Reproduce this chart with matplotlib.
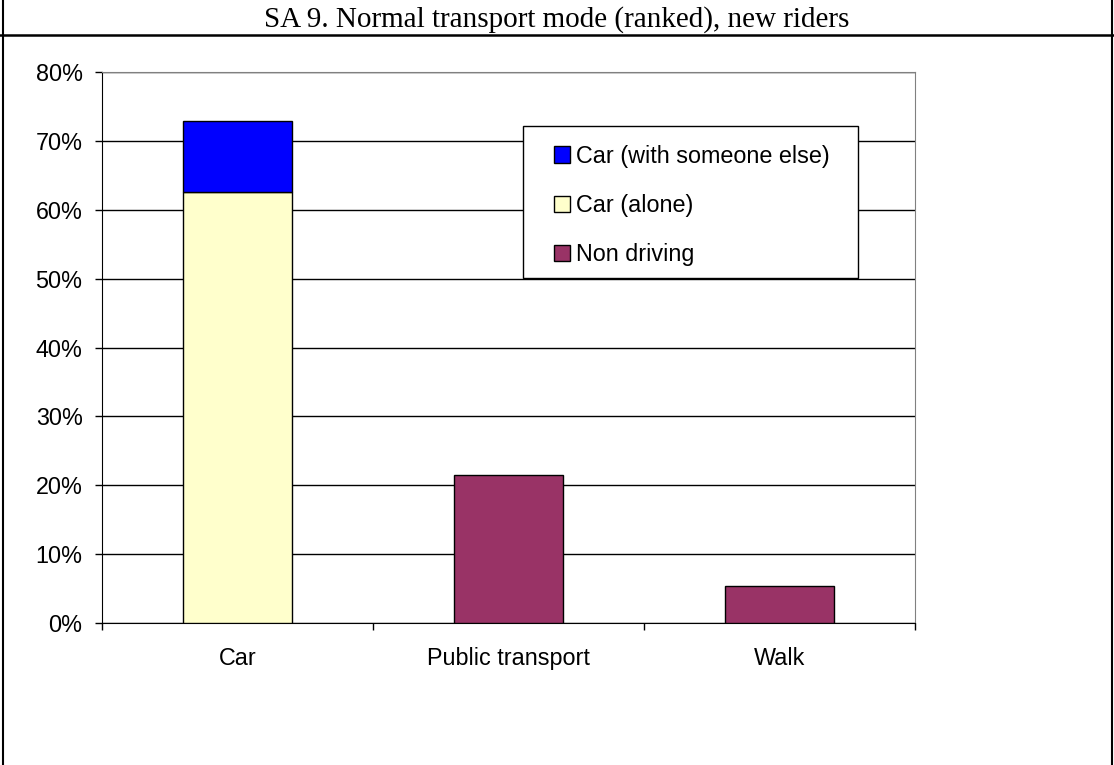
import matplotlib
matplotlib.use("Agg")
import matplotlib.pyplot as plt
import matplotlib.patches as mpatches
from matplotlib.lines import Line2D

# DATA
categories = ["Car", "Public transport", "Walk"]
car_alone = [62.6, 0, 0]
car_with_other = [10.3, 0, 0]
non_driving = [0, 21.5, 5.4]
y_ticks = [0, 10, 20, 30, 40, 50, 60, 70, 80]
title = "SA 9. Normal transport mode (ranked), new riders"

plt.rcParams['font.family'] = ['Liberation Sans', 'DejaVu Sans']
FS = 16.8

fig = plt.figure(figsize=(11.14, 7.65), dpi=100)
ax = fig.add_axes([0.0916, 0.1856, 0.7298, 0.7203])

x = range(len(categories))
bar_w = 0.4

# only draw the non-zero pieces
def draw(values, bottoms, color):
    for i, v in enumerate(values):
        if v > 0:
            ax.bar(i, v, bottom=bottoms[i], width=bar_w, color=color,
                   edgecolor='black', linewidth=1.0, zorder=3)

draw(car_alone, [0, 0, 0], '#FFFFCC')
draw(car_with_other, car_alone, '#0000FF')
draw(non_driving, [0, 0, 0], '#993366')

ax.set_xlim(-0.5, 2.5)
ax.set_ylim(0, 80)
ax.set_yticks(y_ticks)
ax.set_yticklabels([f"{t}%" for t in y_ticks], fontsize=FS)
ax.tick_params(axis='y', direction='out', length=5, width=1, pad=9)

# ticks on category boundaries, labels in the middle
ax.set_xticks([-0.5, 0.5, 1.5, 2.5])
ax.set_xticklabels([])
ax.tick_params(axis='x', which='major', direction='out', length=5, width=1)
ax.set_xticks(list(x), minor=True)
ax.set_xticklabels(categories, minor=True, fontsize=FS)
ax.tick_params(axis='x', which='minor', length=0, pad=17)

ax.yaxis.grid(True, color='black', linewidth=1.0, zorder=0)
ax.set_axisbelow(True)
ax.spines['left'].set_color('black')
ax.spines['bottom'].set_color('black')
ax.spines['top'].set_color('#808080')
ax.spines['right'].set_color('#808080')

# legend box
box = mpatches.Rectangle((0.518, 0.626), 0.412, 0.276, transform=ax.transAxes,
                         facecolor='white', edgecolor='black', linewidth=1.0, zorder=4)
ax.add_patch(box)
handles = [
    mpatches.Patch(facecolor='#0000FF', edgecolor='black', label='Car (with someone else)'),
    mpatches.Patch(facecolor='#FFFFCC', edgecolor='black', label='Car (alone)'),
    mpatches.Patch(facecolor='#993366', edgecolor='black', label='Non driving'),
]
leg = ax.legend(handles=handles, loc='upper left', bbox_to_anchor=(0.556, 0.868),
                frameon=False, fontsize=FS, handlelength=0.69, handleheight=0.69,
                handletextpad=0.26, labelspacing=1.12, borderpad=0, borderaxespad=0)
leg.set_zorder(5)

# title and frame lines
fig.text(0.5, 1 - 20 / 765, title, ha='center', va='center',
         fontsize=21, family=['Liberation Serif', 'DejaVu Serif'])
fig.add_artist(Line2D([0, 1], [1 - 35 / 765] * 2, color='black', linewidth=1.8,
                      transform=fig.transFigure))
fig.add_artist(Line2D([2.5 / 1114] * 2, [0, 1], color='black', linewidth=1.5,
                      transform=fig.transFigure))
fig.add_artist(Line2D([1 - 2.5 / 1114] * 2, [0, 1], color='black', linewidth=1.5,
                      transform=fig.transFigure))

fig.savefig("out.png", dpi=100)
